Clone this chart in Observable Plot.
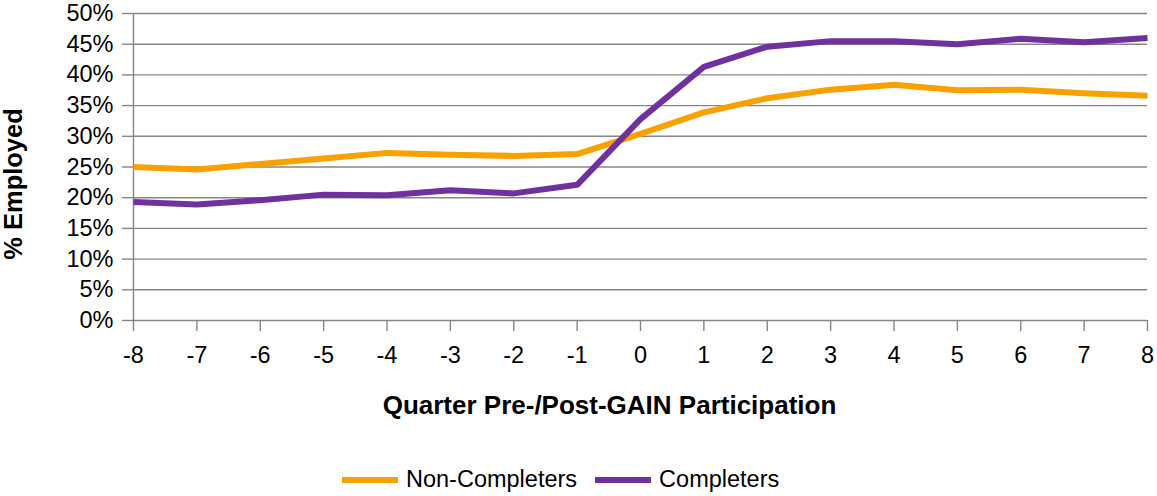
<!DOCTYPE html>
<html>
<head>
<meta charset="utf-8">
<script src="https://cdn.jsdelivr.net/npm/d3@7"></script>
<script src="https://cdn.jsdelivr.net/npm/@observablehq/plot@0.6"></script>
<style>
  body { margin: 0; background: #fff; font-family: "Liberation Sans", Arial, sans-serif; }
  #wrap { position: relative; width: 1157px; height: 496px; }
  #legend { position: absolute; left: 342px; top: 466px; display: flex; align-items: center; font-size: 23.5px; color: #000; white-space: nowrap; }
  .sw { display: inline-block; width: 56px; height: 6px; margin-right: 8px; }
  .item { display: flex; align-items: center; margin-right: 18px; }
</style>
</head>
<body>
<div id="wrap"><div id="chart"></div><div id="legend"></div></div>
<script>
const quarters = [-8, -7, -6, -5, -4, -3, -2, -1, 0, 1, 2, 3, 4, 5, 6, 7, 8];
const nonCompleters = [25.0, 24.6, 25.5, 26.4, 27.3, 27.0, 26.8, 27.1, 30.4, 33.9, 36.2, 37.6, 38.4, 37.5, 37.6, 37.0, 36.6];
const completers = [19.3, 18.9, 19.6, 20.5, 20.4, 21.2, 20.7, 22.1, 32.8, 41.3, 44.6, 45.5, 45.5, 45.0, 45.9, 45.3, 46.0];
const seriesNames = ["Non-Completers", "Completers"];
const seriesColors = ["#F9A100", "#7030A0"];
const yTicks = [0, 5, 10, 15, 20, 25, 30, 35, 40, 45, 50];
const xTitle = "Quarter Pre-/Post-GAIN Participation";
const yTitle = "% Employed";

const data = [];
quarters.forEach((q, i) => {
  data.push({q, v: nonCompleters[i], s: seriesNames[0]});
  data.push({q, v: completers[i], s: seriesNames[1]});
});

const grid = "#868686";
const chart = Plot.plot({
  width: 1157,
  height: 430,
  marginLeft: 133,
  marginRight: 10,
  marginTop: 13,
  marginBottom: 110,
  style: {fontSize: "23.5px", fontFamily: "Liberation Sans, Arial, sans-serif", color: "#000", background: "#fff"},
  x: {type: "linear", domain: [-8, 8]},
  y: {domain: [0, 50]},
  color: {domain: seriesNames, range: seriesColors},
  marks: [
    Plot.gridY(yTicks, {stroke: grid, strokeOpacity: 1, strokeWidth: 1.4}),
    Plot.ruleX([-8], {stroke: grid, strokeWidth: 1.4}),
    Plot.axisY(yTicks, {tickSize: 11, tickPadding: 9, stroke: grid, strokeWidth: 1.4, tickFormat: d => d + "%", label: null}),
    Plot.axisX(quarters, {tickSize: 11, tickPadding: 15, stroke: grid, strokeWidth: 1.4, tickFormat: d => String(d).replace("−", "-"), label: null}),
    Plot.line(data, {x: "q", y: "v", z: "s", stroke: "s", strokeWidth: 6, strokeLinejoin: "round", strokeLinecap: "butt"}),
    Plot.text([xTitle], {frameAnchor: "bottom", dy: 93, dx: -31, fontWeight: "bold", fontSize: 26, fill: "#000"}),
    Plot.text([yTitle], {frameAnchor: "left", textAnchor: "middle", rotate: -90, dx: -120, dy: 17, fontWeight: "bold", fontSize: 25.5, fill: "#000"})
  ]
});
document.getElementById("chart").appendChild(chart);

const legend = document.getElementById("legend");
seriesNames.forEach((n, i) => {
  const it = document.createElement("div");
  it.className = "item";
  const sw = document.createElement("span");
  sw.className = "sw";
  sw.style.background = seriesColors[i];
  it.appendChild(sw);
  it.appendChild(document.createTextNode(n));
  legend.appendChild(it);
});
</script>
</body>
</html>
